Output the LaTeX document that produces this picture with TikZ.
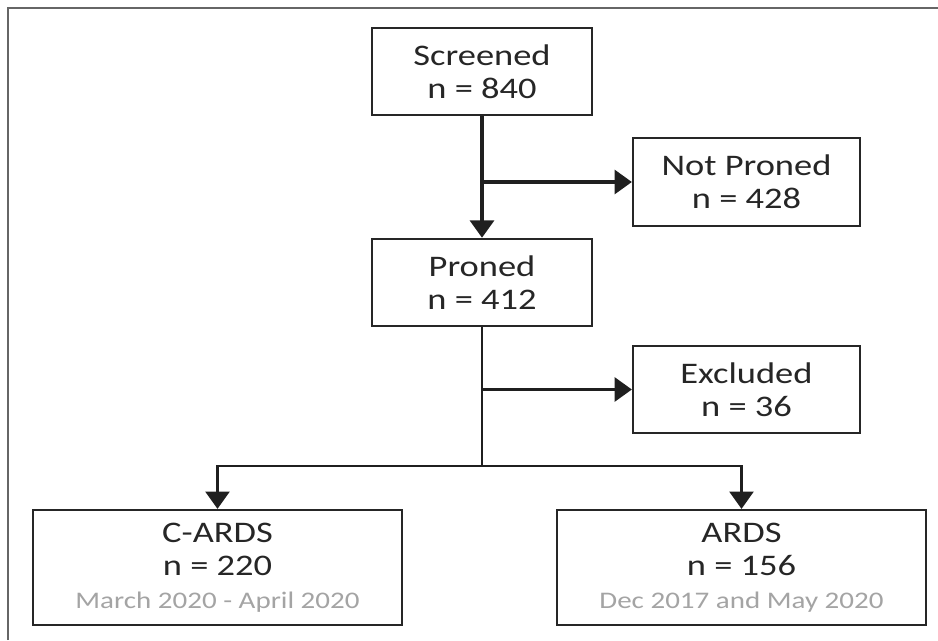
\documentclass[tikz,border=0pt]{standalone}
\usepackage{fontspec}
\setmainfont{Carlito}[FakeStretch=1.22]
\usepackage{xcolor}
\usepackage{tikz}
\usetikzlibrary{arrows.meta}
\definecolor{boxtext}{HTML}{262626}
\definecolor{datetext}{HTML}{A4A4A4}
\tikzset{FCbox/.style={draw=black!85,line width=1.9pt,fill=white,text=boxtext,align=center,
    inner sep=0pt,font=\fontsize{25.5}{28.2}\selectfont},
  FCsmall/.style={FCbox,minimum width=6.6cm,minimum height=2.62cm},
  FCbig/.style={FCbox,minimum width=11.07cm,minimum height=3.45cm},
  FCline/.style={line width=2.7pt,color=black!88},
  >={Triangle[length=0.52cm,width=0.72cm]}}
\newcommand{\datefont}{\fontsize{20.3}{24}\selectfont\color{datetext}}

\begin{document}
\begin{tikzpicture}[x=0.3cm,y=-0.3cm]
	\useasboundingbox (0,0) rectangle (93.8,64);
	\draw[black!60,line width=2.4pt] (0.8,64) -- (0.8,0.8) -- (93.8,0.8);
	%
	\node[FCsmall] (S) at (48.2,7.15) {Screened\\n = 840};
	\node[FCsmall,minimum width=6.81cm] (NP) at (74.65,18.2) {Not Proned\\n = 428};
	\node[FCsmall] (P) at (48.2,28.25) {Proned\\n = 412};
	\node[FCsmall,minimum width=6.81cm] (E) at (74.65,38.95) {Excluded\\n = 36};
	\node[FCbig] (CA) at (21.75,56.75) {C-ARDS\\n = 220\\{\datefont March 2020 - April 2020}};
	\node[FCbig] (A) at (74.15,56.75) {ARDS\\n = 156\\{\datefont Dec 2017 and May 2020}};
	%
	\coordinate (J1) at (48.2,18.2);
	\coordinate (J2) at (48.2,38.95);
	\coordinate (J3) at (48.2,46.6);
	%
	\path[->,FCline]
	(S) edge (P)
	(J1) edge (NP)
	(J2) edge (E);
	\draw[FCline,line width=2.1pt] (P) -- (J3);
	\draw[->,FCline,line width=2.3pt] (J3) -| (CA);
	\draw[->,FCline,line width=2.3pt] (J3) -| (A);
\end{tikzpicture}
\end{document}
